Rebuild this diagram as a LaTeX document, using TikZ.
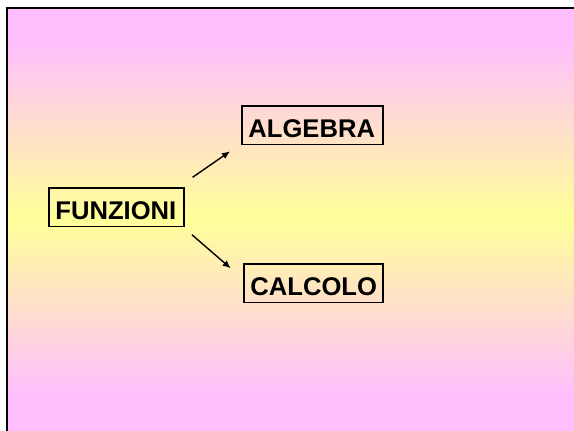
\documentclass[tikz,border=0pt]{standalone}
\usepackage{fontspec}
\setmainfont{Liberation Sans}
\usetikzlibrary{arrows.meta}
\definecolor{pinkbg}{RGB}{255,191,255}
\definecolor{yellowbg}{RGB}{255,255,153}
\begin{document}
\begin{tikzpicture}[x=1pt,y=-1pt,
  box/.style={draw=black, line width=1.9pt, inner xsep=6.5pt, inner ysep=0pt,
    text height=31.5pt, text depth=7pt, align=left,
    font=\fontsize{25.6}{30}\selectfont\bfseries, anchor=north west},
  arr/.style={line width=1.4pt, -{Latex[length=8pt,width=7pt]}}]
\clip (0,0) rectangle (574,431);
\fill[white] (0,0) rectangle (574,431);
\fill[pinkbg] (7,8) rectangle (574,40);
\shade[top color=pinkbg, bottom color=yellowbg] (7,40) rectangle (574,218.5);
\shade[top color=yellowbg, bottom color=pinkbg] (7,218) rectangle (574,396);
\fill[pinkbg] (7,395.5) rectangle (574,431);
\draw[line width=2pt] (7,450) -- (7,8) -- (600,8);
\node[box, text width=128pt] (alg) at (241,105) {ALGEBRA};
\node[box, text width=122pt] (funz) at (48,187) {FUNZIONI};
\node[box, text width=126pt] (calc) at (243,263) {CALCOLO};
\draw[arr] ([shift={(7.7,-9.7)}]funz.north east) -- ([shift={(-11,6)}]alg.south west);
\draw[arr] ([shift={(7,7.3)}]funz.south east) -- ([shift={(-12.3,5.3)}]calc.north west);
\end{tikzpicture}
\end{document}
